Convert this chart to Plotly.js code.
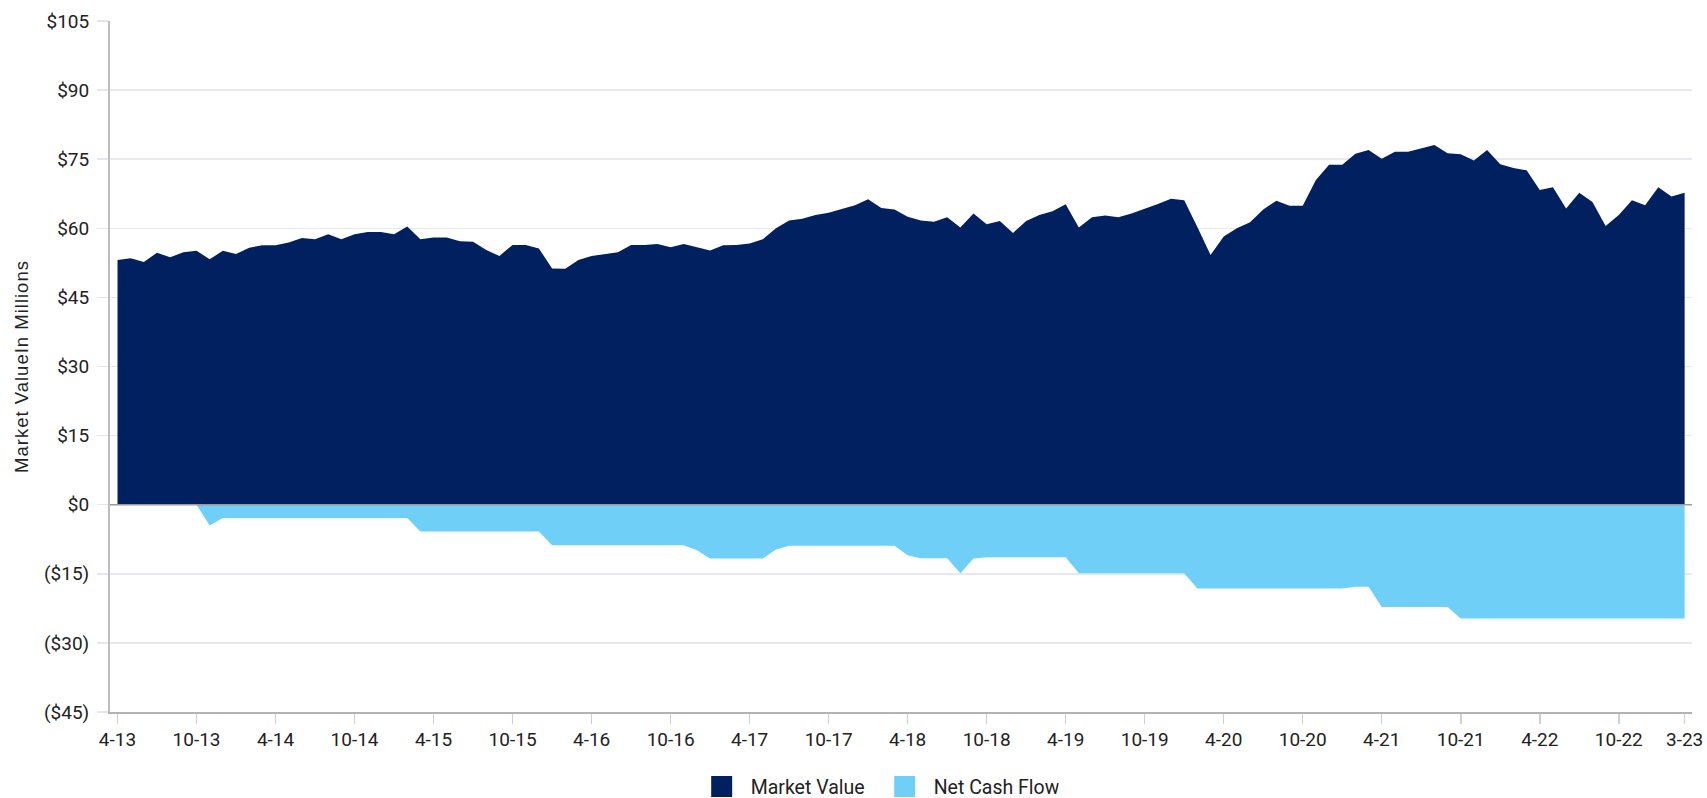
<!DOCTYPE html>
<html>
<head>
<meta charset="utf-8">
<script src="https://cdn.plot.ly/plotly-3.0.1.min.js"></script>
<style>
  html, body { margin: 0; padding: 0; background: #ffffff; }
  #chart { width: 1707px; height: 798px; }
  .ytitle { letter-spacing: 1px; }
</style>
</head>
<body>
<div id="chart"></div>
<script>
// Monthly categories 4-13 ... 3-23 (120 months)
const firstYear = 2013, firstMonth = 4, monthCount = 120;
const months = [];
for (let k = 0; k < monthCount; k++) {
  const m = (firstMonth - 1 + k) % 12 + 1;
  const y = firstYear + Math.floor((firstMonth - 1 + k) / 12);
  months.push(m + '-' + String(y % 100).padStart(2, '0'));
}

// Market value, $ millions
const marketValue = [
  53.1,53.5,52.7,54.7,53.7,54.8,55.1,53.3,55.1,54.4,55.8,56.3,
  56.3,56.9,57.9,57.6,58.7,57.6,58.7,59.2,59.2,58.7,60.4,57.6,
  58.0,58.0,57.2,57.1,55.3,54.0,56.4,56.4,55.6,51.3,51.2,53.1,
  54.0,54.4,54.8,56.4,56.4,56.6,55.9,56.6,55.9,55.2,56.3,56.4,
  56.7,57.6,60.0,61.7,62.1,62.9,63.4,64.2,65.0,66.3,64.4,64.1,
  62.5,61.7,61.4,62.4,60.2,63.2,60.9,61.6,59.0,61.6,62.9,63.7,
  65.2,60.2,62.4,62.8,62.4,63.2,64.2,65.3,66.4,66.1,60.3,54.2,
  58.2,60.0,61.3,64.1,66.0,64.9,64.9,70.5,73.8,73.8,76.2,77.0,
  75.1,76.6,76.6,77.3,78.1,76.3,76.1,74.7,77.0,73.9,73.1,72.6,
  68.3,68.9,64.3,67.7,65.7,60.5,62.9,66.1,65.0,68.9,66.9,67.7
];

// Cumulative net cash flow, $ millions
const netCashFlow = [
  0,0,0,0,0,0,0,-4.5,-2.9,-2.9,-2.9,-2.9,
  -2.9,-2.9,-2.9,-2.9,-2.9,-2.9,-2.9,-2.9,-2.9,-2.9,-2.9,-5.8,
  -5.8,-5.8,-5.8,-5.8,-5.8,-5.8,-5.8,-5.8,-5.8,-8.8,-8.8,-8.8,
  -8.8,-8.8,-8.8,-8.8,-8.8,-8.8,-8.8,-8.8,-9.9,-11.7,-11.7,-11.7,
  -11.7,-11.7,-9.7,-8.9,-8.9,-8.9,-8.9,-8.9,-8.9,-8.9,-8.9,-8.9,
  -11.0,-11.6,-11.6,-11.6,-14.9,-11.7,-11.4,-11.4,-11.4,-11.4,-11.4,-11.4,
  -11.4,-14.9,-14.9,-14.9,-14.9,-14.9,-14.9,-14.9,-14.9,-14.9,-18.2,-18.2,
  -18.2,-18.2,-18.2,-18.2,-18.2,-18.2,-18.2,-18.2,-18.2,-18.2,-17.8,-17.8,
  -22.2,-22.2,-22.2,-22.2,-22.2,-22.2,-24.7,-24.7,-24.7,-24.7,-24.7,-24.7,
  -24.7,-24.7,-24.7,-24.7,-24.7,-24.7,-24.7,-24.7,-24.7,-24.7,-24.7,-24.7
];

const xTickLabels = ['4-13','10-13','4-14','10-14','4-15','10-15','4-16','10-16',
  '4-17','10-17','4-18','10-18','4-19','10-19','4-20','10-20','4-21','10-21',
  '4-22','10-22','3-23'];
const yTickValues = [-45,-30,-15,0,15,30,45,60,75,90,105];
const yTickLabels = ['($45)','($30)','($15)','$0','$15','$30','$45','$60','$75','$90','$105'];

const seriesNames = ['Market Value', 'Net Cash Flow'];
const colorMV = '#012060';
const colorNCF = '#6fcff6';

const traces = [
  {
    type: 'scatter', mode: 'lines', x: months, y: marketValue,
    fill: 'tozeroy', fillcolor: colorMV, line: {width: 0, color: colorMV},
    name: seriesNames[0], showlegend: false, hoverinfo: 'x+y'
  },
  {
    type: 'scatter', mode: 'lines', x: months, y: netCashFlow,
    fill: 'tozeroy', fillcolor: colorNCF, line: {width: 0, color: colorNCF},
    name: seriesNames[1], showlegend: false, hoverinfo: 'x+y'
  },
  // legend entries (square swatches)
  {
    type: 'scatter', mode: 'markers', x: [null], y: [null], name: seriesNames[0],
    marker: {symbol: 'square', size: 16, color: colorMV, line: {width: 5, color: colorMV}},
    showlegend: true, hoverinfo: 'skip'
  },
  {
    type: 'scatter', mode: 'markers', x: [null], y: [null], name: seriesNames[1],
    marker: {symbol: 'square', size: 16, color: colorNCF, line: {width: 5, color: colorNCF}},
    showlegend: true, hoverinfo: 'skip'
  }
];

const tickFont = {family: 'Roboto, sans-serif', size: 19, color: '#222222'};

const layout = {
  width: 1707, height: 798,
  paper_bgcolor: '#ffffff', plot_bgcolor: '#ffffff',
  margin: {l: 110, r: 15, t: 21, b: 86, pad: 0},
  showlegend: true,
  legend: {
    orientation: 'h', x: 0.484, xanchor: 'center',
    yref: 'container', y: 0.014, yanchor: 'middle',
    font: {family: 'Roboto, sans-serif', size: 19.5, color: '#222222'},
    itemwidth: 48, entrywidth: 120, traceorder: 'normal',
    bgcolor: 'rgba(0,0,0,0)'
  },
  xaxis: {
    type: 'category',
    range: [-0.57, 119.56],
    tickmode: 'array', tickvals: xTickLabels, ticktext: xTickLabels,
    ticks: 'outside', ticklen: 10, tickwidth: 1.5, tickcolor: '#d0d0d0',
    tickfont: tickFont, tickangle: 0,
    showgrid: false, zeroline: false,
    showline: true, linecolor: '#b3b3b3', linewidth: 1.5,
    fixedrange: true
  },
  yaxis: {
    range: [-45, 105],
    tickmode: 'array', tickvals: yTickValues, ticktext: yTickLabels,
    ticks: 'outside', ticklen: 11, tickwidth: 1.5, tickcolor: '#e3e7ed',
    tickfont: tickFont, ticklabelstandoff: 4,
    showgrid: true, gridcolor: '#e6e9ee', gridwidth: 1.5,
    zeroline: false,
    showline: true, linecolor: '#bdbdbd', linewidth: 2,
    title: {
      text: 'Market ValueIn Millions',
      font: {family: '"Liberation Sans", Arial, sans-serif', size: 18.5, color: '#222222'},
      standoff: 11
    },
    automargin: false,
    fixedrange: true
  },
  shapes: [
    {type: 'line', xref: 'paper', x0: 0, x1: 1, yref: 'y', y0: 0, y1: 0,
     line: {color: '#9a9a9a', width: 1.5}, layer: 'above'}
  ]
};

Plotly.newPlot('chart', traces, layout, {displayModeBar: false, staticPlot: true});
</script>
</body>
</html>
